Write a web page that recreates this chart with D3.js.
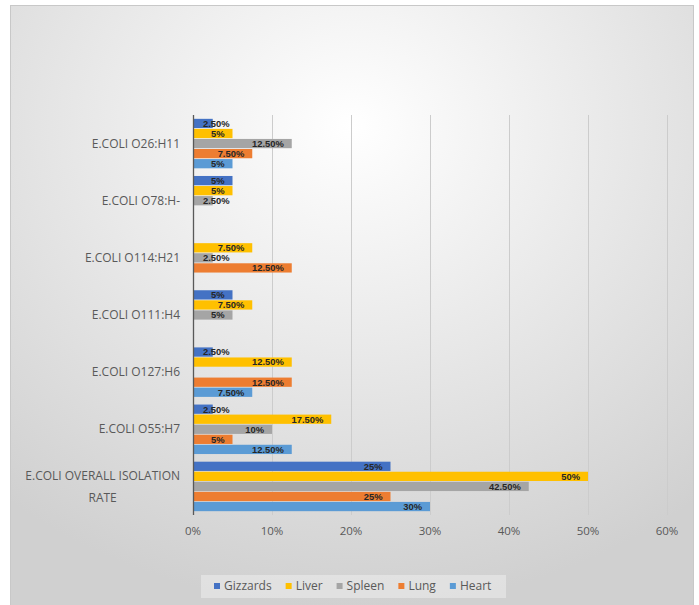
<!DOCTYPE html>
<html>
<head>
    <title>E.coli isolation rate</title>
    <script src="https://cdnjs.cloudflare.com/ajax/libs/d3/7.8.5/d3.min.js" charset="utf-8"></script>
    <style>
        body { margin: 0; background: #ffffff; }
    </style>
</head>
<body>
    <div id="graph"></div>
</body>
<script>
    var width = 699;
    var height = 605;

    // data (percent)
    var categories = ["E.COLI O26:H11", "E.COLI O78:H-", "E.COLI O114:H21", "E.COLI O111:H4",
        "E.COLI O127:H6", "E.COLI O55:H7", "E.COLI OVERALL ISOLATION RATE"];
    var seriesNames = ["Gizzards", "Liver", "Spleen", "Lung", "Heart"];
    var gizzards = [2.5, 5, 0, 5, 2.5, 2.5, 25];
    var liver = [5, 5, 7.5, 7.5, 12.5, 17.5, 50];
    var spleen = [12.5, 2.5, 2.5, 5, 0, 10, 42.5];
    var lung = [7.5, 0, 12.5, 0, 12.5, 5, 25];
    var heart = [5, 0, 0, 0, 7.5, 12.5, 30];
    var xTicks = [0, 10, 20, 30, 40, 50, 60];
    var colors = ["#4472C4", "#FFC000", "#A5A5A5", "#ED7D31", "#5B9BD5"];

    var seriesValues = [gizzards, liver, spleen, lung, heart];

    var svg = d3.select("#graph").append("svg")
            .attr("width", width)
            .attr("height", height);

    var defs = svg.append("defs");
    var grad = defs.append("radialGradient")
            .attr("id", "bg")
            .attr("cx", "50%").attr("cy", "20%").attr("r", "80%");
    grad.append("stop").attr("offset", "0%").attr("stop-color", "#ffffff");
    grad.append("stop").attr("offset", "100%").attr("stop-color", "#d0d0d0");

    svg.append("rect")
            .attr("x", 10.5).attr("y", 5.5)
            .attr("width", 683).attr("height", 602)
            .attr("fill", "url(#bg)")
            .attr("stroke", "#c8c8c8");

    var x = d3.scaleLinear().domain([0, 60]).range([193, 667]);
    var y0 = d3.scaleBand().domain(categories).range([115, 515])
            .paddingInner(0.12).paddingOuter(0.06);
    var y1 = d3.scaleBand().domain(seriesNames).range([0, y0.bandwidth()]);

    // gridlines
    svg.append("g").selectAll("line")
            .data(xTicks.slice(1))
            .enter().append("line")
            .attr("x1", function (d) { return x(d) + 0.5; })
            .attr("x2", function (d) { return x(d) + 0.5; })
            .attr("y1", 115).attr("y2", 515)
            .attr("stroke", "#cccccc")
            .attr("stroke-width", 1);

    // bars
    var rows = [];
    categories.forEach(function (c, i) {
        seriesNames.forEach(function (s, j) {
            rows.push({cat: c, series: s, idx: j, value: seriesValues[j][i]});
        });
    });
    rows = rows.filter(function (d) { return d.value > 0; });

    svg.append("g").selectAll("rect")
            .data(rows)
            .enter().append("rect")
            .attr("x", x(0))
            .attr("y", function (d) { return y0(d.cat) + y1(d.series) + 0.4; })
            .attr("width", function (d) { return x(d.value) - x(0); })
            .attr("height", y1.bandwidth() - 0.8)
            .attr("fill", function (d) { return colors[d.idx]; });

    function fmt(v) {
        return (v % 1 === 0) ? v + "%" : v.toFixed(2) + "%";
    }

    // data labels, inside end; pushed right when the bar is too short
    svg.append("g").selectAll("text")
            .data(rows)
            .enter().append("text")
            .attr("y", function (d) { return y0(d.cat) + y1(d.series) + y1.bandwidth() / 2; })
            .attr("dy", "0.36em")
            .attr("font-family", "Liberation Sans, Arial")
            .attr("font-weight", "bold")
            .attr("font-size", "9.4px")
            .attr("fill", "#262626")
            .text(function (d) { return fmt(d.value); })
            .each(function (d) {
                var w = this.getComputedTextLength();
                var end = x(d.value) - 8;
                if (end - w < x(0) + 10) end = x(0) + 10 + w;
                d3.select(this).attr("x", end).attr("text-anchor", "end");
            });

    // y axis line
    svg.append("line")
            .attr("x1", 193.5).attr("x2", 193.5)
            .attr("y1", 115).attr("y2", 515)
            .attr("stroke", "#595959")
            .attr("stroke-width", 1.3);

    // category labels
    var catG = svg.append("g");
    categories.forEach(function (c) {
        var cy = y0(c) + y0.bandwidth() / 2;
        var lines = c.length > 20 ? ["E.COLI OVERALL ISOLATION", "RATE"] : [c];
        var t = catG.append("text")
                .attr("font-family", "Open Sans")
                .attr("font-size", "12px")
                .attr("fill", "#595959");
        lines.forEach(function (l, k) {
            t.append("tspan").text(l)
                    .attr("y", cy + (k - (lines.length - 1) / 2) * 22)
                    .attr("dy", "0.35em");
        });
        var widest = d3.max(t.selectAll("tspan").nodes(), function (n) { return n.getComputedTextLength(); });
        t.selectAll("tspan").attr("x", 180 - widest / 2).attr("text-anchor", "middle");
    });

    // x axis labels
    svg.append("g").selectAll("text")
            .data(xTicks)
            .enter().append("text")
            .attr("x", function (d) { return x(d); })
            .attr("y", 535)
            .attr("text-anchor", "middle")
            .attr("font-family", "Open Sans")
            .attr("font-size", "11.5px")
            .attr("fill", "#595959")
            .text(function (d) { return d + "%"; });

    // legend
    var legend = svg.append("g");
    legend.append("rect")
            .attr("x", 201).attr("y", 575)
            .attr("width", 305).attr("height", 23)
            .attr("fill", "#ffffff").attr("opacity", 0.35);
    var lx = 214;
    seriesNames.forEach(function (s, i) {
        legend.append("rect")
                .attr("x", lx).attr("y", 583)
                .attr("width", 6).attr("height", 6)
                .attr("fill", colors[i]);
        var t = legend.append("text")
                .attr("x", lx + 10).attr("y", 586)
                .attr("dy", "0.35em")
                .attr("font-family", "Open Sans")
                .attr("font-size", "12px")
                .attr("fill", "#595959")
                .text(s);
        lx += 10 + t.node().getComputedTextLength() + 14;
    });
</script>
</html>
